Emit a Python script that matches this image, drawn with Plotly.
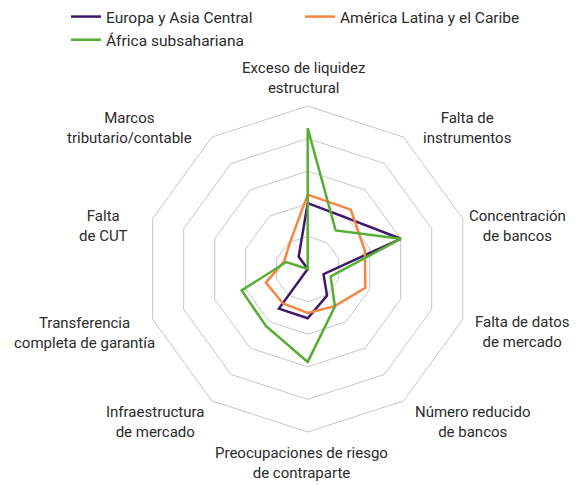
import math
import plotly.graph_objects as go

categories = [
    "Exceso de liquidez<br>estructural",
    "Falta de<br>instrumentos",
    "Concentración<br>de bancos",
    "Falta de datos<br>de mercado",
    "Número reducido<br>de bancos",
    "Preocupaciones de riesgo<br>de contraparte",
    "Infraestructura<br>de mercado",
    "Transferencia<br>completa de garantía",
    "Falta<br>de CUT",
    "Marcos<br>tributario/contable",
]
europa = [2.02, 1.96, 3.0, 0.51, 1.01, 1.51, 1.50, 0.0, 0.0, 0.47]
america = [2.28, 2.25, 1.84, 1.86, 1.41, 1.35, 1.30, 1.35, 0.76, 0.95]
africa = [4.32, 1.46, 3.0, 0.74, 1.42, 2.85, 2.17, 2.13, 0.69, 0.0]
series_names = ["Europa y Asia Central", "América Latina y el Caribe", "África subsahariana"]
series_values = [europa, america, africa]
series_colors = ["#40176b", "#f7843f", "#55ad32"]

# small layout nudges (px) for the category labels
label_nudge = [(-4, 3), (12, 8), (-5, 4), (1, 0), (4, -6),
               (-6, 0), (0, -6), (14, 1), (-13, 4), (-12, 8)]

FONT = "Roboto, sans-serif"
TXT = "#2b2b2b"
FS = 15

fig = go.Figure()
for name, vals, col in zip(series_names, series_values, series_colors):
    fig.add_trace(go.Scatterpolar(
        r=vals + vals[:1], theta=categories + categories[:1], name=name,
        mode="lines", line=dict(color=col, width=2.5),
    ))

# page body has an 8px margin, so the figure is drawn slightly smaller
W, H = 570, 477
cx, cy, R = 299.7, 261, 163

annotations = []
n = len(categories)
for i, lab in enumerate(categories):
    ang = math.radians(90 - i * 360 / n)
    c, s = math.cos(ang), math.sin(ang)
    pad = 10
    px = cx + (R + pad) * c
    py = cy - (R + pad) * s
    xa = "center" if abs(c) < 0.2 else ("left" if c > 0 else "right")
    ya = "middle"
    if s > 0.9:
        ya = "bottom"
    elif s < -0.9:
        ya = "top"
    elif s > 0.5:
        ya = "bottom"; py += 12
    elif s < -0.5:
        ya = "top"; py -= 2
    elif s > 0:
        py += 6
    else:
        py += 10
    dx, dy = label_nudge[i]
    px += dx
    py += dy
    annotations.append(dict(
        x=px / W, y=1 - py / H, xref="paper", yref="paper",
        text=lab, showarrow=False, xanchor=xa, yanchor=ya, align="center",
        font=dict(family=FONT, size=FS, color=TXT),
    ))

fig.update_layout(
    width=W, height=H,
    margin=dict(l=0, r=0, t=0, b=0, autoexpand=False),
    paper_bgcolor="white", plot_bgcolor="white",
    font=dict(family=FONT, size=FS, color=TXT),
    showlegend=True,
    legend=dict(
        orientation="h", x=58 / W, y=1.0 + 8 / H, xanchor="left", yanchor="top",
        entrywidth=189, entrywidthmode="pixels",
        font=dict(family=FONT, size=15.5, color=TXT),
        itemwidth=30, bgcolor="rgba(0,0,0,0)",
    ),
    annotations=annotations,
    polar=dict(
        domain=dict(x=[(cx - R) / W, (cx + R) / W], y=[1 - (cy + R) / H, 1 - (cy - R) / H]),
        gridshape="linear",
        bgcolor="white",
        radialaxis=dict(range=[0, 5], tickvals=[1, 2, 3, 4, 5], showticklabels=False,
                        ticks="", showline=False, gridcolor="#c6c6c6", gridwidth=1),
        angularaxis=dict(direction="clockwise", rotation=90, showgrid=False,
                         showline=True, linecolor="#c6c6c6", linewidth=1, ticks="",
                         showticklabels=False),
    ),
)
fig.write_html("out.html")
